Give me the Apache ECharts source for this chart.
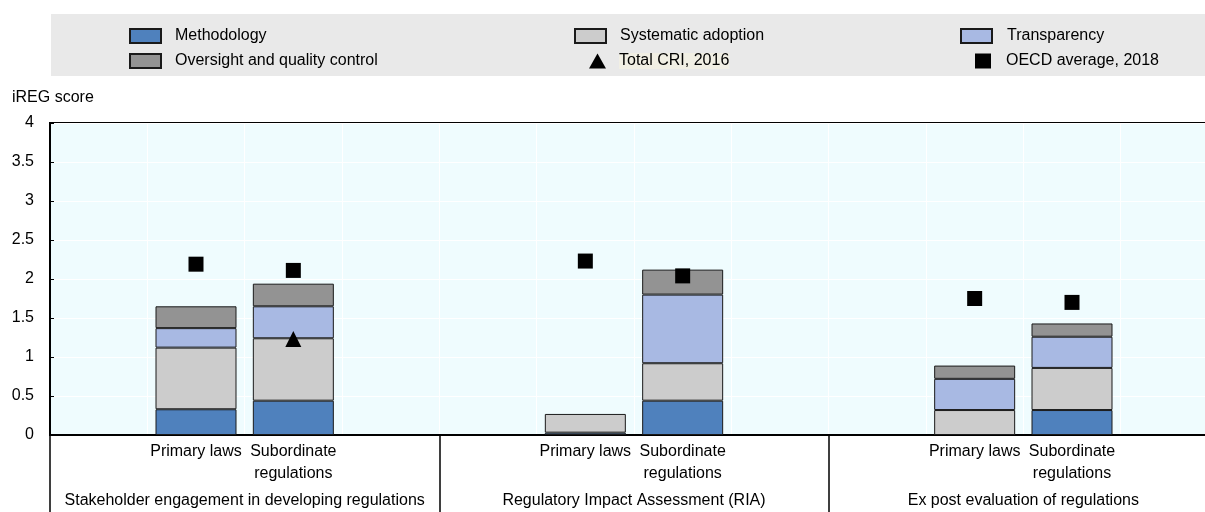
<!DOCTYPE html>
<html>
<head>
<meta charset="utf-8">
<script src="https://cdn.jsdelivr.net/npm/echarts@6/dist/echarts.min.js"></script>
<style>
  body { margin: 0; }
  #chart { width: 1205px; height: 512px; }
</style>
</head>
<body>
<div id="chart"></div>
<script>
// categories: one empty slot either side of each pair of bars
const categories = ['', 'Primary laws', 'Subordinate\nregulations', '',
                    '', 'Primary laws', 'Subordinate\nregulations', '',
                    '', 'Primary laws', 'Subordinate\nregulations', ''];
const groups = ['Stakeholder engagement in developing regulations',
                'Regulatory Impact Assessment (RIA)',
                'Ex post evaluation of regulations'];

const methodology = [null, 0.33, 0.44, null, null, 0.03, 0.44, null, null, null, 0.32, null];
const systematic  = [null, 0.79, 0.80, null, null, 0.24, 0.48, null, null, 0.32, 0.54, null];
const transparency = [null, 0.25, 0.41, null, null, null, 0.88, null, null, 0.40, 0.40, null];
const oversight   = [null, 0.28, 0.29, null, null, null, 0.32, null, null, 0.17, 0.17, null];
const totalCri2016 = [null, null, 1.23, null, null, null, null, null, null, null, null, null];
const oecdAvg2018 = [null, 2.19, 2.11, null, null, 2.23, 2.04, null, null, 1.75, 1.70, null];

const font = "'Liberation Sans', Arial, sans-serif";
const chart = echarts.init(document.getElementById('chart'), null, { renderer: 'canvas' });

function bar(name, data, color) {
    return {
        name: name, type: 'bar', stack: 'cri', data: data,
        xAxisIndex: 0, barWidth: 81,
        itemStyle: { color: color, borderColor: '#1a1a1a', borderWidth: 1 }
    };
}

// one legend per entry so each marker can have its own size
function legendItem(name, left, top, icon, w, h, gap) {
    return {
        left: left, top: top, padding: 0,
        itemWidth: w, itemHeight: h, icon: icon,
        data: [name],
        formatter: n => n === 'Total CRI, 2016' ? '{g|}{h|' + n + '}' : '{g|}{t|' + n + '}',
        textStyle: {
            fontFamily: font, fontSize: 16, color: '#000', lineHeight: 18,
            rich: {
                g: { width: gap },
                t: { fontFamily: font, fontSize: 16, color: '#000' },
                h: { fontFamily: font, fontSize: 16, color: '#000', backgroundColor: '#f1efe4' }
            }
        }
    };
}

const option = {
    animation: false,
    textStyle: { fontFamily: font },
    title: {
        text: 'iREG score', left: 12, top: 90, padding: 0,
        textStyle: { fontFamily: font, fontSize: 16, fontWeight: 'normal', color: '#000' }
    },
    graphic: [{
        type: 'rect', left: 51, top: 14, z: -1,
        shape: { width: 1154, height: 62 },
        style: { fill: '#e9e9e9' }
    }],
    legend: [
        legendItem('Methodology', 129, 27, 'rect', 31, 14, 9),
        legendItem('Oversight and quality control', 129, 52, 'rect', 31, 14, 9),
        legendItem('Systematic adoption', 574, 27, 'rect', 31, 14, 9),
        legendItem('Total CRI, 2016', 589, 52, 'triangle', 17, 15, 8),
        legendItem('Transparency', 960, 27, 'rect', 31, 14, 10),
        legendItem('OECD average, 2018', 975, 52, 'rect', 16, 15, 10)
    ],
    grid: {
        left: 50, top: 123, width: 1168, bottom: 77, outerBoundsMode: 'none',
        show: true, backgroundColor: '#effcfe', borderColor: '#000', borderWidth: 2
    },
    xAxis: [{
        type: 'category', data: categories, position: 'bottom',
        axisLine: { lineStyle: { color: '#000', width: 2 } },
        axisTick: { show: false },
        splitLine: { show: true, interval: 0, lineStyle: { color: '#fff', width: 1 } },
        axisLabel: { interval: 0, margin: 6, fontSize: 16, lineHeight: 22, color: '#000', fontFamily: font }
    }, {
        type: 'category', data: groups, position: 'bottom',
        axisLine: { show: false },
        axisTick: { show: true, interval: 0, length: 77, lineStyle: { color: '#000', width: 1.5 } },
        axisLabel: { interval: 0, margin: 57, fontSize: 16, lineHeight: 18, color: '#000', fontFamily: font }
    }],
    yAxis: {
        type: 'value', min: 0, max: 4, interval: 0.5,
        axisLine: { show: true, lineStyle: { color: '#000', width: 2 } },
        axisTick: { show: true, inside: true, length: 4, lineStyle: { color: '#000' } },
        splitLine: { lineStyle: { color: '#fff', width: 1 } },
        axisLabel: { margin: 16, fontSize: 16, color: '#000', fontFamily: font }
    },
    series: [
        bar('Methodology', methodology, '#4f81bd'),
        bar('Systematic adoption', systematic, '#cccccc'),
        bar('Transparency', transparency, '#a8b9e3'),
        bar('Oversight and quality control', oversight, '#939393'),
        {
            name: 'Total CRI, 2016', type: 'scatter', data: totalCri2016, xAxisIndex: 0,
            symbol: 'triangle', symbolSize: 16, z: 5,
            itemStyle: { color: '#000', opacity: 1 }
        },
        {
            name: 'OECD average, 2018', type: 'scatter', data: oecdAvg2018, xAxisIndex: 0,
            symbol: 'rect', symbolSize: 15, z: 5,
            itemStyle: { color: '#000', opacity: 1 }
        }
    ]
};

chart.setOption(option);
window.addEventListener('resize', chart.resize);
</script>
</body>
</html>
